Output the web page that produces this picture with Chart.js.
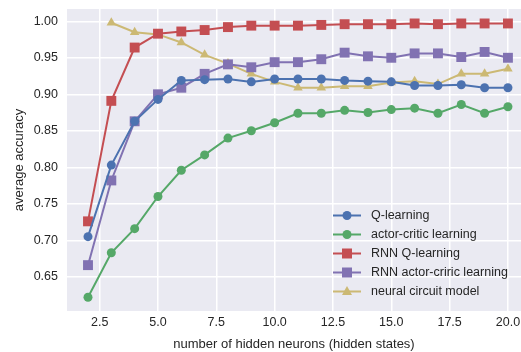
<!DOCTYPE html>
<html>
<head>
<meta charset="utf-8">
<script src="https://cdn.jsdelivr.net/npm/chart.js@4/dist/chart.umd.min.js"></script>
<style>
  html, body { margin: 0; padding: 0; background: #fff; overflow: hidden; }
  #wrap { width: 521px; height: 352px; }
</style>
</head>
<body>
<div id="wrap"><canvas id="chart" width="521" height="352"></canvas></div>
<script>
// --- data ---
const neurons = [2, 3, 4, 5, 6, 7, 8, 9, 10, 11, 12, 13, 14, 15, 16, 17, 18, 19, 20];
const qLearning = [0.705, 0.803, 0.863, 0.893, 0.919, 0.920, 0.921, 0.917, 0.921, 0.921, 0.921, 0.919, 0.918, 0.917, 0.912, 0.912, 0.913, 0.909, 0.909];
const actorCritic = [0.622, 0.683, 0.716, 0.760, 0.796, 0.817, 0.840, 0.850, 0.861, 0.874, 0.874, 0.878, 0.875, 0.879, 0.881, 0.874, 0.886, 0.874, 0.883];
const rnnQ = [0.726, 0.891, 0.964, 0.983, 0.986, 0.988, 0.992, 0.994, 0.994, 0.994, 0.995, 0.996, 0.996, 0.996, 0.997, 0.996, 0.997, 0.997, 0.997];
const rnnActorCritic = [0.666, 0.782, 0.863, 0.900, 0.909, 0.928, 0.941, 0.937, 0.944, 0.944, 0.948, 0.957, 0.952, 0.950, 0.956, 0.956, 0.951, 0.958, 0.950];
// neural circuit model starts at 3 neurons
const circuitX = [3, 4, 5, 6, 7, 8, 9, 10, 11, 12, 13, 14, 15, 16, 17, 18, 19, 20];
const circuit = [0.998, 0.985, 0.982, 0.971, 0.954, 0.942, 0.928, 0.917, 0.909, 0.909, 0.911, 0.911, 0.916, 0.918, 0.914, 0.928, 0.928, 0.935];

const xTicks = [2.5, 5.0, 7.5, 10.0, 12.5, 15.0, 17.5, 20.0];
const yTicks = [0.65, 0.70, 0.75, 0.80, 0.85, 0.90, 0.95, 1.00];

const FONT = "'Liberation Sans', Arial, sans-serif";

const pts = (xs, ys) => xs.map((x, i) => ({ x: x, y: ys[i] }));

function series(label, xs, ys, color, style, radius) {
    return {
        label: label,
        data: pts(xs, ys),
        borderColor: color,
        backgroundColor: color,
        borderWidth: 2,
        pointStyle: style,
        pointRadius: radius,
        pointHoverRadius: radius,
        pointBorderWidth: 0,
        tension: 0,
        clip: false
    };
}

// legend drawn inside the plot, lower right, matplotlib-style (line + marker)
const innerLegend = {
    id: 'innerLegend',
    afterDraw(chart) {
        const ctx = chart.ctx;
        const x0 = 333, x1 = 361, tx = 371;
        let y = 215.5;
        ctx.save();
        chart.data.datasets.forEach(ds => {
            ctx.strokeStyle = ds.borderColor;
            ctx.fillStyle = ds.borderColor;
            ctx.lineWidth = 2;
            ctx.beginPath();
            ctx.moveTo(x0, y);
            ctx.lineTo(x1, y);
            ctx.stroke();
            const cx = (x0 + x1) / 2;
            ctx.beginPath();
            if (ds.pointStyle === 'circle') {
                ctx.arc(cx, y, 4.5, 0, Math.PI * 2);
            } else if (ds.pointStyle === 'rect') {
                ctx.rect(cx - 5, y - 5, 10, 10);
            } else {
                ctx.moveTo(cx, y - 5.5);
                ctx.lineTo(cx + 5, y + 3.5);
                ctx.lineTo(cx - 5, y + 3.5);
                ctx.closePath();
            }
            ctx.fill();
            ctx.fillStyle = '#262626';
            ctx.font = '12.5px ' + FONT;
            ctx.textBaseline = 'middle';
            ctx.textAlign = 'left';
            ctx.fillText(ds.label, tx, y + 0.5);
            y += 19;
        });
        ctx.restore();
    }
};

// seaborn darkgrid background for the plot area
const plotBackground = {
    id: 'plotBackground',
    beforeDraw(chart) {
        const a = chart.chartArea;
        chart.ctx.save();
        chart.ctx.fillStyle = '#EAEAF2';
        chart.ctx.fillRect(a.left, a.top, a.right - a.left, a.bottom - a.top);
        chart.ctx.restore();
    }
};

new Chart(document.getElementById('chart').getContext('2d'), {
    type: 'line',
    data: {
        datasets: [
            series('Q-learning', neurons, qLearning, '#4C72B0', 'circle', 4.5),
            series('actor-critic learning', neurons, actorCritic, '#55A868', 'circle', 4.5),
            series('RNN Q-learning', neurons, rnnQ, '#C44E52', 'rect', 7),
            series('RNN actor-criric learning', neurons, rnnActorCritic, '#8172B2', 'rect', 7),
            series('neural circuit model', circuitX, circuit, '#CCB974', 'triangle', 5.5)
        ]
    },
    options: {
        responsive: false,
        animation: false,
        devicePixelRatio: 1,
        layout: { autoPadding: false, padding: { top: 9, right: 0, left: 0, bottom: 0 } },
        plugins: {
            legend: { display: false },
            tooltip: { enabled: false }
        },
        scales: {
            x: {
                type: 'linear',
                min: 1.1,
                max: 20.56,
                afterBuildTicks: s => { s.ticks = xTicks.map(v => ({ value: v })); },
                afterFit: s => { s.height = 41; s.paddingLeft = 0; s.paddingRight = 0; },
                grid: { color: '#FFFFFF', lineWidth: 1.5, drawTicks: false },
                border: { display: false },
                ticks: {
                    color: '#262626',
                    font: { family: FONT, size: 12.5 },
                    padding: 4,
                    maxRotation: 0,
                    callback: v => Number(v).toFixed(1)
                },
                title: {
                    display: true,
                    text: 'number of hidden neurons (hidden states)',
                    color: '#262626',
                    font: { family: FONT, size: 13 },
                    padding: { top: 4, bottom: 0 }
                }
            },
            y: {
                min: 0.6032,
                max: 1.0168,
                afterBuildTicks: s => { s.ticks = yTicks.map(v => ({ value: v })); },
                afterFit: s => { s.width = 67; s.paddingTop = 0; s.paddingBottom = 0; },
                grid: { color: '#FFFFFF', lineWidth: 1.5, drawTicks: false },
                border: { display: false },
                ticks: {
                    color: '#262626',
                    font: { family: FONT, size: 12.5 },
                    padding: 9,
                    callback: v => Number(v).toFixed(2)
                },
                title: {
                    display: true,
                    text: 'average accuracy',
                    color: '#262626',
                    font: { family: FONT, size: 13 },
                    padding: { top: 12, bottom: 4 }
                }
            }
        }
    },
    plugins: [plotBackground, innerLegend]
});
</script>
</body>
</html>
